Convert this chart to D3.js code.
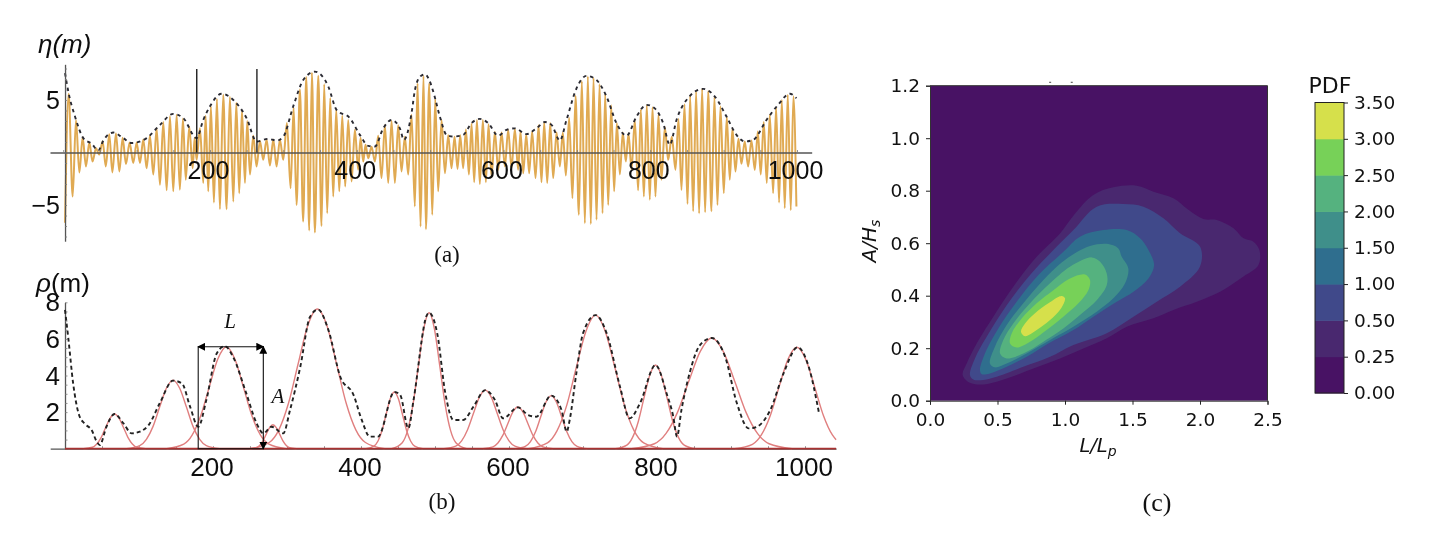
<!DOCTYPE html>
<html>
<head>
<meta charset="utf-8">
<script src="https://cdn.jsdelivr.net/npm/d3@7"></script>
<style>
  html, body { margin: 0; padding: 0; background: #fff; }
  svg { display: block; }
  text { fill: #111; }
</style>
</head>
<body>
<div id="container"></div>
<script>
// (a) surface elevation, crests and troughs
const etaTroughX = [2.5,12.9,22,31,40,49,58,67,76.5,85.5,95.5,104.6,113.7,122.8,131.9,141,150,159,167,176.4,181.8,190.9,197.7,205.4,213.6,222.7,231.8,239.9,247.7,254.5,263.5,272.6,281.7,290.8,299.9,309.9,318,327,335.3,343,352,359.8,368,376.2,384.3,393,402,408.9,415.7,424.8,433.8,442.9,452,461,470.2,479.2,487,494.3,502.9,511,520.2,529.2,537.4,545.1,552.9,560.1,567.8,576,583.7,592.8,601.9,611,620,626.9,635,643.7,651.8,659.6,667.7,676.8,685,694,702.7,710.9,719,726.8,735,742.7,750.8,758.6,766.7,774.5,783.5,791.3,799.4,807.1,815.3,824.4,834.4,842.6,850.8,858.5,866.6,874.8,883.4,891.6,900.2,908.4,916.1,924.3,933.4,942.5,950.6,958.8,967.5,975.6,983.3,991.5,999.2];
const etaTrough = [-6.7,-4.2,-1.9,-1.33,-0.86,-0.2,-1.33,-1.9,-1.8,-1.1,-1,-1,-1.5,-2.1,-3.08,-3.6,-3.7,-3.55,-2.6,-1.5,-0.7,-2.9,-3.7,-4.76,-5.4,-5.4,-4.67,-3.87,-2.9,-2.1,-1.33,-0.7,-1.24,-1.33,-0.7,-3.4,-5,-6.57,-7.43,-7.62,-7,-5.78,-4.2,-3.7,-3.24,-2.76,-1.65,-0.86,-0.54,-0.86,-2.44,-2.9,-2.9,-1.8,-2.1,-5.14,-7.05,-7.3,-5.94,-3.7,-1.97,-1.5,-1.56,-1.5,-2.1,-2.83,-3,-2.83,-2.3,-1.65,-1.33,-1.5,-1.65,-1.97,-1.97,-2.44,-2.83,-2.9,-2.44,-1.33,-2.2,-4.35,-5.94,-6.73,-6.8,-6.4,-5.78,-5,-3.7,-2.1,-0.86,-1.65,-3.6,-4.2,-4.5,-4.2,-2.6,-0.7,-1.65,-3.56,-4.9,-5.6,-5.8,-5.7,-5.6,-5,-3.87,-2.6,-1.8,-1.08,-1.33,-1.65,-2.1,-2.9,-3.87,-4.76,-5.3,-5.5,-5.14];
const etaCrestX = [7.4,17.4,26.5,35.6,44.7,53.8,62.8,71.9,81,90.5,100.1,109.2,118.2,127.3,136.4,145.5,154.6,163.2,171.8,179.1,186.4,194.1,201.3,209.5,218.1,227.2,235.9,243.6,250.8,259,268.1,277.2,286.3,295.3,304.9,314,322.6,331.2,338.9,347.6,355.7,363.9,372.1,380.3,388.4,397.5,405.2,412,420.2,429.3,438.4,447.5,456.5,465.6,474.7,482.9,491,498.8,507,515.6,524.7,533.3,541,548.8,556.5,563.8,571.9,579.6,588.3,597.4,606.4,615.5,623.2,631,639.1,647.8,655.5,663.7,672.3,680.9,689.5,698.2,706.8,715,722.7,730.9,738.6,746.8,754.5,762.6,770.4,779,787.2,795.3,803.1,811.2,819.9,829.4,838.5,846.7,854.4,862.5,870.7,878.9,887.5,895.7,904.3,912,920.2,928.8,937.9,946.6,954.7,962.9,971.5,979.3,987.4,995.1];
const etaCrest = [5.6,3.1,1.45,0.95,0.4,1.05,1.75,1.8,1.4,0.95,0.95,1.25,1.6,2.3,2.9,3.45,3.6,3.25,2.45,1.4,2.3,3.5,4.4,5.1,5.5,5.3,4.75,4,3,1.6,1.1,1.25,1.25,1.25,2.8,4.3,6,7.2,7.6,7.3,6.5,5.2,4.1,3.5,3.1,2.2,1.4,0.75,0.55,1.6,2.6,3,2.6,1.5,3.6,6.6,7.3,6.6,5.1,3.1,1.65,1.5,1.65,2.2,2.75,3.1,3.1,2.7,1.95,1.9,2.15,2.25,2,1.75,2,2.6,2.85,2.8,1.9,1.9,3.3,5.4,6.8,7.25,7.1,6.5,5.6,4.5,2.8,1.9,1.8,3.1,4.1,4.5,4.3,3.6,2.4,1.5,3.2,4.6,5.4,5.8,6.05,5.85,5.3,4.4,3.4,2.3,1.3,1.05,1.15,2,2.9,3.6,4.3,5,5.5,5.35];
const etaEnvX = [2.5,7,16.1,27.4,38.8,47.9,54.7,68.3,81.9,93.3,113.7,131.9,150,163.7,181.8,190.9,200,215.9,231.8,249.9,263.5,279.4,290.8,299.9,313.5,327.1,343,361.2,372.5,390.7,404.3,415.7,424.8,436.1,447.5,458.8,464.3,474.7,479.2,486,492.9,498.8,504.3,513.3,522.4,531.5,545.1,556.5,567.8,579.2,592.8,604.2,615.5,631.4,645,656.4,665.5,676.8,685.9,699.5,713.2,726.8,740.4,754,767.6,781.3,794.9,806.2,817.6,826.7,835.8,849.4,872.1,888,903.9,917.5,928.8,940.2,958.4,974.3,990.2,999.2];
const etaEnv = [7.56,5.8,3.43,1.37,0.83,0.2,1.14,1.9,1.37,0.9,1.37,2.63,3.68,3.27,1.37,3.1,4.4,5.6,5,3.27,1.05,1.3,1.14,1.5,4.4,6.9,7.7,6.3,4.06,3.27,1.68,0.63,0.57,2.3,3.1,2.3,1.2,3.75,5.9,7.2,7.45,6.9,5.8,3.43,1.68,1.52,1.68,2.8,3.2,2.8,1.6,2.16,2.3,1.75,2.3,2.9,2.63,1.14,3.1,6.1,7.3,6.9,5.33,2.8,1.6,3.43,4.54,4.2,2.8,0.73,3.1,5,6.06,5.33,3.43,1.68,1.05,1.2,3.1,4.54,5.6,5.17];
const etaMarks = [182, 264];
const etaXTicks = [200, 400, 600, 800, 1000];
const etaYTicks = [-5, 5];

// (b) envelope and the fitted pulses
const rhoEnvX = [0,4.5,11,19,27,36,43,47,56,67,79,90,101,113,128,146,158,169,180,191,205,216,227,245,259,268,279,295,304,318,331,342,356,372,390,401,412,423,445,453,464,471,489,492,503,514,525,538,552,568,581,592,612,626,637,657,671,678,682,691,700,717,732,750,763,777,798,813,822,827,833,844,858,874,892,908,924,935,953,971,990,1005,1019];
const rhoEnv = [7.58,6.03,3.57,1.84,1.35,1.02,0.38,0.2,1.2,1.9,1.38,0.84,0.93,1.29,2.48,3.72,3.57,2.3,1.2,2.66,5.2,5.6,5.03,3.02,1.38,0.84,1.2,0.84,2.1,4.48,7.2,7.6,6.48,3.93,2.93,1.57,0.66,0.66,3.1,2.93,1.11,2.66,7.3,7.43,6.3,3.02,1.57,1.57,2.3,3.2,2.66,1.66,2.26,1.84,1.75,2.9,2.11,0.93,1.57,4.12,6.3,7.3,6.3,3.39,1.66,2.48,4.57,3.02,1.75,0.66,2.11,4.12,5.66,6.05,5.03,2.48,1.11,1.2,2.11,4.12,5.54,4.48,1.93];
const pulses = [
  [[25,0],[37,.08],[43,.26],[49,.62],[55,1.16],[61,1.67],[67,1.9],[73,1.67],[79,1.16],[85,.62],[91,.26],[97,.08],[109,0]],
  [[83,0],[101,.165],[110,.51],[119,1.22],[128,2.29],[137,3.3],[146,3.75],[155,3.3],[164,2.29],[173,1.22],[182,.51],[191,.165],[209,0]],
  [[137.5,0],[160.5,.245],[172,.75],[183.5,1.81],[195,3.38],[206.5,4.9],[218,5.57],[229.5,4.9],[241,3.38],[252.5,1.81],[264,.75],[275.5,.245],[298.5,0]],
  [[249.5,0],[258.5,.06],[263,.18],[267.5,.43],[272,.8],[276.5,1.15],[281,1.31],[285.5,1.15],[290,.8],[294.5,.43],[299,.18],[303.5,.06],[312.5,0]],
  [[250,0],[276,.34],[289,1.03],[302,2.48],[315,4.63],[328,6.72],[341,7.63],[354,6.72],[367,4.63],[380,2.48],[393,1.03],[406,.34],[432,0]],
  [[406.5,0],[417.5,.14],[423,.42],[428.5,1.01],[434,1.88],[439.5,2.73],[445,3.1],[450.5,2.73],[456,1.88],[461.5,1.01],[467,.42],[472.5,.14],[483.5,0]],
  [[441.25,0],[455.75,.33],[463,1],[470.25,2.41],[477.5,4.51],[484.75,6.54],[492,7.43],[499.25,6.54],[506.5,4.51],[513.75,2.41],[521,1],[528.25,.33],[542.75,0]],
  [[512,0],[528,.14],[536,.43],[544,1.04],[552,1.94],[560,2.82],[568,3.2],[576,2.82],[584,1.94],[592,1.04],[600,.43],[608,.14],[624,0]],
  [[564.75,0],[578.25,.1],[585,.31],[591.75,.74],[598.5,1.38],[605.25,2.01],[612,2.28],[618.75,2.01],[625.5,1.38],[632.25,.74],[639,.31],[645.75,.1],[659.25,0]],
  [[608,0],[622,.13],[629,.39],[636,.94],[643,1.76],[650,2.55],[657,2.9],[664,2.55],[671,1.76],[678,.94],[685,.39],[692,.13],[706,0]],
  [[626,0],[652,.32],[665,.99],[678,2.37],[691,4.45],[704,6.42],[717,7.3],[730,6.42],[743,4.45],[756,2.37],[769,.99],[782,.32],[808,0]],
  [[743.75,0],[759.25,.2],[767,.62],[774.75,1.49],[782.5,2.79],[790.25,4.02],[798,4.57],[805.75,4.02],[813.5,2.79],[821.25,1.49],[829,.62],[836.75,.2],[852.25,0]],
  [[765.5,0],[796.5,.27],[812,.82],[827.5,1.97],[843,3.69],[858.5,5.32],[874,6.05],[889.5,5.32],[905,3.69],[920.5,1.97],[936,.82],[951.5,.27],[982.5,0]],
  [[905,0],[929,.24],[941,.75],[953,1.8],[965,3.38],[977,4.88],[989,5.54],[1001,4.88],[1013,3.38],[1025,1.8],[1037,.75],[1042,.49]]
];
const boxX = [180, 268];
const boxTop = 5.57;
const rhoXTicks = [200, 400, 600, 800, 1000];
const rhoYTicks = [2, 4, 6, 8];

// (c) PDF contours, [L/Lp, A/Hs]
const contours = [
  [[.242,.098],[.272,.142],[.346,.218],[.469,.32],[.617,.434],[.79,.548],[.963,.637],[1.062,.705],[1.21,.784],[1.358,.813],[1.531,.819],[1.655,.796],[1.803,.771],[1.914,.727],[2.025,.692],[2.124,.688],[2.248,.657],[2.322,.619],[2.396,.606],[2.44,.574],[2.433,.517],[2.322,.473],[2.149,.415],[1.976,.377],[1.803,.346],[1.655,.314],[1.457,.282],[1.309,.238],[1.136,.199],[.963,.161],[.766,.123],[.568,.085],[.395,.062],[.296,.068]],
  [[.296,.098],[.333,.161],[.42,.244],[.568,.364],[.741,.479],[.914,.574],[1.062,.65],[1.235,.739],[1.433,.749],[1.581,.739],[1.729,.695],[1.852,.638],[2,.587],[2,.511],[1.852,.434],[1.68,.377],[1.507,.32],[1.309,.257],[1.062,.212],[.889,.167],[.691,.129],[.494,.091],[.395,.079],[.321,.081]],
  [[.37,.117],[.407,.18],[.506,.275],[.642,.377],[.803,.479],[.988,.567],[1.111,.625],[1.284,.65],[1.457,.65],[1.556,.619],[1.618,.574],[1.66,.517],[1.618,.466],[1.507,.415],[1.383,.377],[1.21,.32],[1.062,.269],[.889,.222],[.716,.167],[.568,.129],[.444,.104],[.383,.101]],
  [[.444,.142],[.481,.206],[.568,.288],[.691,.371],[.84,.46],[1,.536],[1.185,.589],[1.321,.597],[1.395,.58],[1.42,.548],[1.469,.504],[1.445,.447],[1.358,.39],[1.235,.339],[1.062,.282],[.889,.231],[.716,.18],[.568,.142],[.481,.127]],
  [[.519,.18],[.543,.231],[.617,.294],[.741,.371],[.889,.447],[1.037,.51],[1.198,.546],[1.26,.529],[1.309,.485],[1.309,.44],[1.235,.383],[1.124,.332],[.988,.275],[.84,.225],[.691,.18],[.568,.161]],
  [[.593,.218],[.605,.256],[.679,.313],[.79,.371],[.914,.421],[1.037,.466],[1.148,.481],[1.185,.46],[1.173,.421],[1.099,.371],[.988,.32],[.864,.269],[.741,.225],[.642,.203]],
  [[.674,.263],[.704,.294],[.778,.333],[.877,.371],[.975,.399],[1,.39],[.975,.355],[.889,.307],[.79,.269],[.704,.246]]
];
const bandColors = ['#481264', '#49286f', '#40498a', '#2f6e8e', '#3f8f8a', '#55b27f', '#77d158', '#d6e04b'];
const pdfLevels = ['0.00', '0.25', '0.50', '1.00', '1.50', '2.00', '2.50', '3.00', '3.50'];
const pdfXTicks = [0, 0.5, 1, 1.5, 2, 2.5];
const pdfYTicks = [0, 0.2, 0.4, 0.6, 0.8, 1, 1.2];
const cutTitle = [[.89, 1.213], [1.05, 1.213]];

const sansFont = '"Liberation Sans", Arial, sans-serif';
const mplFont = '"DejaVu Sans", sans-serif';
const serifFont = '"Liberation Serif", serif';

const svg = d3.select('#container').append('svg')
  .attr('width', 1432)
  .attr('height', 538);

const defs = svg.append('defs');
defs.append('filter').attr('id', 'soft')
  .append('feGaussianBlur').attr('stdDeviation', 0.5);
defs.append('clipPath').attr('id', 'clip-a').append('rect')
  .attr('x', 0).attr('y', 0).attr('width', 823).attr('height', 260);
defs.append('marker').attr('id', 'head')
  .attr('viewBox', '0 0 8 8').attr('refX', 7).attr('refY', 4)
  .attr('markerWidth', 8).attr('markerHeight', 8)
  .attr('markerUnits', 'userSpaceOnUse').attr('orient', 'auto-start-reverse')
  .append('path').attr('d', 'M0,0L8,4L0,8Z').attr('fill', '#000');

// Scales
const xA = d3.scaleLinear().domain([0, 1000]).range([63.2, 797]);
const yA = d3.scaleLinear().domain([-5, 5]).range([205, 100]);
const xB = d3.scaleLinear().domain([0, 1000]).range([65, 805]);
const yB = d3.scaleLinear().domain([0, 8]).range([448.7, 302.3]);
const xC = d3.scaleLinear().domain([0, 2.5]).range([930, 1267.5]);
const yC = d3.scaleLinear().domain([0, 1.2]).range([400.7, 85.7]);
const yBar = d3.scalePoint().domain(pdfLevels).range([393, 102.5]);

// (a)
const panelA = svg.append('g').attr('filter', 'url(#soft)');

function mathAxis(g, axis) {
  g.call(axis);
  g.selectAll('path').attr('stroke', '#555').attr('stroke-width', 1.3);
  g.selectAll('line').attr('stroke', '#777').attr('stroke-width', 0.8);
  g.selectAll('text').remove();
}

// draw the wave first, the axes sit on top of it
const etaWave = d3.zip(etaCrestX, etaCrest)
  .concat(d3.zip(etaTroughX, etaTrough))
  .sort((a, b) => a[0] - b[0]);

panelA.append('path')
  .attr('d', d3.line().x(d => xA(d[0])).y(d => yA(d[1])).curve(d3.curveMonotoneX)(etaWave))
  .attr('fill', 'none')
  .attr('stroke', '#e0aa52')
  .attr('stroke-width', 2);

panelA.append('path')
  .attr('d', d3.line().x(d => xA(d[0])).y(d => yA(d[1])).curve(d3.curveMonotoneX)(d3.zip(etaEnvX, etaEnv)))
  .attr('fill', 'none')
  .attr('stroke', '#2b2b33')
  .attr('stroke-width', 1.9)
  .attr('stroke-dasharray', '3.5 3.8');

panelA.append('g')
  .attr('transform', `translate(0,${yA(0)})`)
  .call(mathAxis, d3.axisBottom(d3.scaleLinear().domain([-18, 1020]).range([xA(-18), xA(1020)]))
    .tickValues(d3.range(0, 1001, 50)).tickSizeInner(-2.5).tickSizeOuter(0));

panelA.append('g')
  .attr('transform', `translate(${xA(2.5)},0)`)
  .call(mathAxis, d3.axisLeft(d3.scaleLinear().domain([-8.45, 8.4]).range([yA(-8.45), yA(8.4)]))
    .tickValues(d3.range(-8, 8.1, 1)).tickSizeInner(-2).tickSizeOuter(0));

panelA.selectAll('.mark')
  .data(etaMarks).join('line')
  .attr('x1', d => xA(d)).attr('x2', d => xA(d))
  .attr('y1', yA(7.95)).attr('y2', yA(0))
  .attr('stroke', '#111').attr('stroke-width', 1.3);

const labelsA = svg.append('g')
  .attr('clip-path', 'url(#clip-a)')
  .attr('font-family', sansFont)
  .attr('font-size', 25)
  .attr('filter', 'url(#soft)');

labelsA.selectAll('.xt')
  .data(etaXTicks).join('text')
  .attr('x', d => xA(d) - 1.5)
  .attr('y', 179)
  .attr('text-anchor', 'middle')
  .text(d => d);

labelsA.selectAll('.yt')
  .data(etaYTicks).join('text')
  .attr('x', 60)
  .attr('y', d => yA(d) + 9)
  .attr('text-anchor', 'end')
  .text(d => d < 0 ? '\u2212' + Math.abs(d) : d);

svg.append('text')
  .attr('x', 38).attr('y', 53)
  .attr('font-family', sansFont).attr('font-size', 26).attr('font-style', 'italic')
  .attr('filter', 'url(#soft)')
  .text('\u03b7(m)');

// (b)
const panelB = svg.append('g').attr('filter', 'url(#soft)');

panelB.append('g')
  .attr('transform', `translate(0,${yB(0)})`)
  .call(mathAxis, d3.axisBottom(d3.scaleLinear().domain([-20, 1042]).range([xB(-20), xB(1042)]))
    .tickValues(d3.range(0, 1001, 50)).tickSizeInner(-2.5).tickSizeOuter(0));

panelB.append('g')
  .attr('transform', `translate(${xB(0)},0)`)
  .call(mathAxis, d3.axisLeft(yB).tickValues(d3.range(0, 8.1, 0.5)).tickSizeInner(-2.5).tickSizeOuter(0));

panelB.selectAll('.pulse')
  .data(pulses).join('path')
  .attr('d', d3.line().x(d => xB(d[0])).y(d => yB(d[1])).curve(d3.curveMonotoneX))
  .attr('fill', 'none')
  .attr('stroke', '#e07f7f')
  .attr('stroke-width', 1.4);

panelB.append('line')
  .attr('x1', xB(0)).attr('x2', xB(1042))
  .attr('y1', yB(0)).attr('y2', yB(0))
  .attr('stroke', '#a83232').attr('stroke-width', 1.7);

panelB.append('path')
  .attr('d', d3.line().x(d => xB(d[0])).y(d => yB(d[1])).curve(d3.curveMonotoneX)(d3.zip(rhoEnvX, rhoEnv)))
  .attr('fill', 'none')
  .attr('stroke', '#222')
  .attr('stroke-width', 1.9)
  .attr('stroke-dasharray', '4 3');

// L and A markers
panelB.append('path')
  .attr('d', `M${xB(boxX[0])},${yB(boxTop)}V${yB(0)}H${xB(boxX[1])}`)
  .attr('fill', 'none').attr('stroke', '#111').attr('stroke-width', 1.1);
panelB.append('line')
  .attr('x1', xB(boxX[0])).attr('x2', xB(boxX[1]))
  .attr('y1', yB(boxTop)).attr('y2', yB(boxTop))
  .attr('stroke', '#111').attr('stroke-width', 1.1)
  .attr('marker-start', 'url(#head)').attr('marker-end', 'url(#head)');
panelB.append('line')
  .attr('x1', xB(boxX[1])).attr('x2', xB(boxX[1]))
  .attr('y1', yB(0)).attr('y2', yB(boxTop))
  .attr('stroke', '#111').attr('stroke-width', 1.1)
  .attr('marker-start', 'url(#head)').attr('marker-end', 'url(#head)');

const labelsB = svg.append('g')
  .attr('font-family', sansFont)
  .attr('font-size', 26)
  .attr('filter', 'url(#soft)');

labelsB.selectAll('.xt')
  .data(rhoXTicks).join('text')
  .attr('x', d => xB(d) - 1)
  .attr('y', 476)
  .attr('text-anchor', 'middle')
  .text(d => d);

labelsB.selectAll('.yt')
  .data(rhoYTicks).join('text')
  .attr('x', 60)
  .attr('y', d => yB(d) + 9)
  .attr('text-anchor', 'end')
  .text(d => d);

const rhoTitle = svg.append('text')
  .attr('x', 36).attr('y', 292)
  .attr('font-family', sansFont).attr('font-size', 26)
  .attr('filter', 'url(#soft)');
rhoTitle.append('tspan').attr('font-style', 'italic').text('\u03c1');
rhoTitle.append('tspan').text('(m)');

svg.append('text')
  .attr('x', 230).attr('y', 328)
  .attr('font-family', serifFont).attr('font-style', 'italic').attr('font-size', 21)
  .attr('text-anchor', 'middle').text('L');
svg.append('text')
  .attr('x', 278).attr('y', 403)
  .attr('font-family', serifFont).attr('font-style', 'italic').attr('font-size', 21)
  .attr('text-anchor', 'middle').text('A');

// panel captions
const captions = [['(a)', 447, 262], ['(b)', 442, 509], ['(c)', 1157, 511]];
svg.selectAll('.caption')
  .data(captions).join('text')
  .attr('x', d => d[1]).attr('y', d => d[2])
  .attr('text-anchor', 'middle')
  .attr('font-family', serifFont)
  .attr('font-size', (d, i) => i === 2 ? 26 : 23)
  .text(d => d[0]);

// (c)
const panelC = svg.append('g');
panelC.append('rect')
  .attr('x', xC(0)).attr('y', yC(1.2))
  .attr('width', xC(2.5) - xC(0)).attr('height', yC(0) - yC(1.2))
  .attr('fill', bandColors[0]);

panelC.selectAll('.band')
  .data(contours).join('path')
  .attr('d', d3.line().x(d => xC(d[0])).y(d => yC(d[1])).curve(d3.curveCatmullRomClosed))
  .attr('fill', (d, i) => bandColors[i + 1]);

function mplAxis(g, axis) {
  g.call(axis);
  g.selectAll('path').attr('stroke', '#333').attr('stroke-width', 1);
  g.selectAll('line').attr('stroke', '#222').attr('stroke-width', 1);
  g.selectAll('text').attr('font-family', mplFont).attr('font-size', 18.5).attr('fill', '#111');
}

panelC.append('g')
  .attr('transform', `translate(0,${yC(0)})`)
  .call(mplAxis, d3.axisBottom(xC).tickValues(pdfXTicks).tickFormat(d3.format('.1f')).tickSize(4).tickPadding(8));
panelC.append('g')
  .attr('transform', `translate(${xC(0)},0)`)
  .call(mplAxis, d3.axisLeft(yC).tickValues(pdfYTicks).tickFormat(d3.format('.1f')).tickSize(4).tickPadding(6));
panelC.append('path')
  .attr('d', `M${xC(0)},${yC(1.2)}H${xC(2.5)}V${yC(0)}`)
  .attr('fill', 'none').attr('stroke', '#333').attr('stroke-width', 1);

panelC.selectAll('.cut')
  .data(cutTitle).join('line')
  .attr('x1', d => xC(d[0]) - 1).attr('x2', d => xC(d[0]) + 1)
  .attr('y1', d => yC(d[1])).attr('y2', d => yC(d[1]))
  .attr('stroke', '#444').attr('stroke-width', 1);

const yLabel = panelC.append('text')
  .attr('transform', `translate(876,241) rotate(-90)`)
  .attr('text-anchor', 'middle')
  .attr('font-family', mplFont).attr('font-size', 20).attr('font-style', 'italic');
yLabel.append('tspan').text('A/H');
yLabel.append('tspan').attr('font-size', 14).attr('dy', 4).text('s');

const xLabel = panelC.append('text')
  .attr('x', 1098).attr('y', 452)
  .attr('text-anchor', 'middle')
  .attr('font-family', mplFont).attr('font-size', 19.5).attr('font-style', 'italic');
xLabel.append('tspan').text('L/L');
xLabel.append('tspan').attr('font-size', 14).attr('dy', 4).text('p');

// colour bar
const barX = 1315;
const barW = 29;
const bar = svg.append('g');
bar.selectAll('rect')
  .data(pdfLevels.slice(1)).join('rect')
  .attr('x', barX)
  .attr('y', d => yBar(d))
  .attr('width', barW)
  .attr('height', yBar(pdfLevels[0]) - yBar(pdfLevels[1]) + 0.5)
  .attr('fill', (d, i) => bandColors[i]);
bar.append('rect')
  .attr('x', barX).attr('y', yBar('3.50'))
  .attr('width', barW).attr('height', yBar('0.00') - yBar('3.50'))
  .attr('fill', 'none').attr('stroke', '#222').attr('stroke-width', 1);
bar.append('g')
  .attr('transform', `translate(${barX + barW},0)`)
  .call(mplAxis, d3.axisRight(yBar).tickSize(4).tickPadding(6));
bar.select('g').select('path').remove();

svg.append('text')
  .attr('x', 1330).attr('y', 93)
  .attr('text-anchor', 'middle')
  .attr('font-family', mplFont).attr('font-size', 22)
  .text('PDF');
</script>
</body>
</html>
